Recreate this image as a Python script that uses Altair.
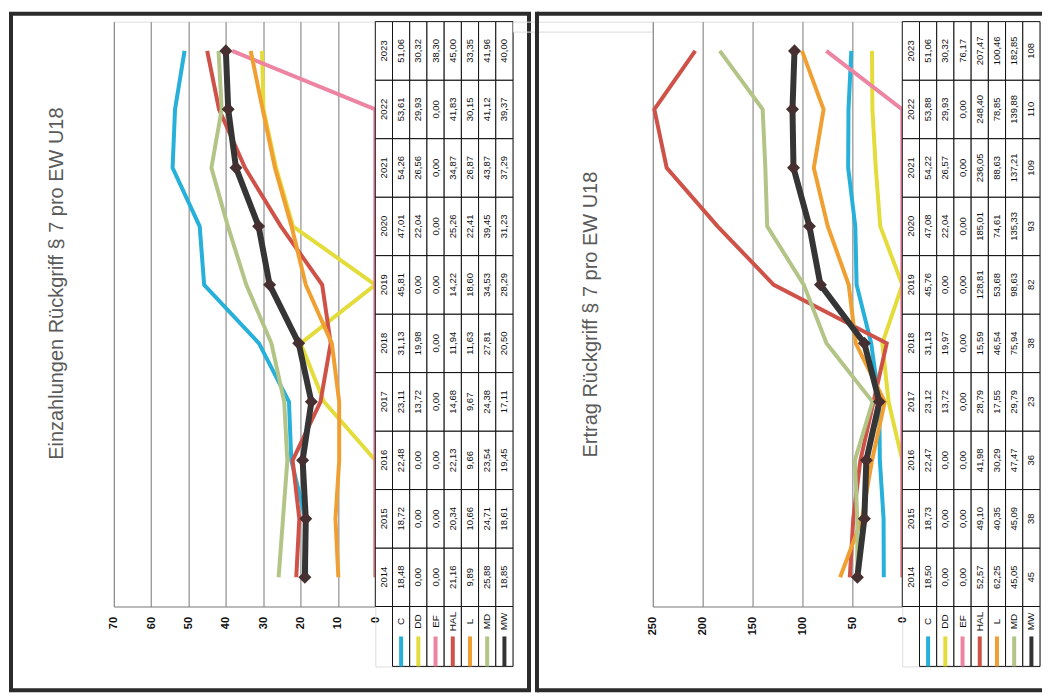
import altair as alt
import pandas as pd

years = ["2014", "2015", "2016", "2017", "2018", "2019", "2020", "2021", "2022", "2023"]
series = ["C", "DD", "EF", "HAL", "L", "MD", "MW"]
colors = ["#27b0d9", "#e3dc3a", "#ec84a2", "#cf5249", "#f0a032", "#b3c487", "#333333"]

# Einzahlungen Rückgriff § 7 pro EW U18
ein_C = [18.48, 18.72, 22.48, 23.11, 31.13, 45.81, 47.01, 54.26, 53.61, 51.06]
ein_DD = [0.00, 0.00, 0.00, 13.72, 19.98, 0.00, 22.04, 26.56, 29.93, 30.32]
ein_EF = [0.00, 0.00, 0.00, 0.00, 0.00, 0.00, 0.00, 0.00, 0.00, 38.30]
ein_HAL = [21.16, 20.34, 22.13, 14.68, 11.94, 14.22, 25.26, 34.87, 41.83, 45.00]
ein_L = [9.89, 10.66, 9.66, 9.67, 11.63, 18.60, 22.41, 26.87, 30.15, 33.35]
ein_MD = [25.88, 24.71, 23.54, 24.38, 27.81, 34.53, 39.45, 43.87, 41.12, 41.96]
ein_MW = [18.85, 18.61, 19.45, 17.11, 20.50, 28.29, 31.23, 37.29, 39.37, 40.00]

# Ertrag Rückgriff § 7 pro EW U18
ert_C = [18.50, 18.73, 22.47, 23.12, 31.13, 45.76, 47.08, 54.22, 53.88, 51.06]
ert_DD = [0.00, 0.00, 0.00, 13.72, 19.97, 0.00, 22.04, 26.57, 29.93, 30.32]
ert_EF = [0.00, 0.00, 0.00, 0.00, 0.00, 0.00, 0.00, 0.00, 0.00, 76.17]
ert_HAL = [52.57, 49.10, 41.98, 28.79, 15.59, 128.81, 185.01, 236.05, 248.40, 207.47]
ert_L = [62.25, 40.35, 30.29, 17.55, 46.54, 53.68, 74.61, 88.63, 78.85, 100.46]
ert_MD = [45.05, 45.09, 47.47, 29.79, 75.94, 98.63, 135.33, 137.21, 139.88, 182.85]
ert_MW = [45, 38, 36, 23, 38, 82, 93, 109, 110, 108]

title1 = "Einzahlungen Rückgriff § 7 pro EW U18"
title2 = "Ertrag Rückgriff § 7 pro EW U18"

FONT = "Liberation Sans"
cols = ["Jahr"] + series
ydom = years[::-1]
PLOT_H = 586
LEG_H = 60
TAB_W = 138


def fmt2(v):
    return f"{v:.2f}".replace(".", ",")


def long_df(data, mw_int=False):
    rows = []
    for s, vals in zip(series, data):
        for i, (yr, v) in enumerate(zip(years, vals)):
            if s == "MW" and mw_int:
                txt = str(int(v))
            else:
                txt = fmt2(v)
            rows.append({"year": yr, "yi": i, "series": s, "col": s, "value": v, "txt": txt})
    return pd.DataFrame(rows)


def line_chart(df, vmax, step, width, title, tpad, ty, frame):
    ysc = alt.Scale(domain=ydom, type="point", padding=0.5)
    xenc = alt.X(
        "value:Q",
        scale=alt.Scale(domain=[0, vmax], reverse=True, nice=False, zero=True),
        axis=alt.Axis(
            values=list(range(0, vmax + 1, step)), labelAngle=270, labelFlush=False,
            labelOverlap=False,
            labelFontWeight="bold", labelFontSize=11, labelPadding=10, labelColor="#111",
            labelFont=FONT, ticks=False, grid=True, gridColor="#777", gridWidth=1,
            domainColor="#888", title=None,
        ),
    )
    yax = alt.Axis(labels=False, ticks=False, domain=False, grid=False, title=title,
                   titleFont=FONT, titleFontSize=20, titleFontWeight="normal",
                   titleColor="#5a5a5a", titlePadding=tpad, titleY=ty)
    yenc = alt.Y("year:O", scale=ysc, axis=yax)
    others = df[df["series"] != "MW"]
    mw = df[df["series"] == "MW"]
    lines = alt.Chart(others).mark_line(strokeWidth=4).encode(
        x=xenc, y=yenc,
        color=alt.Color("series:N", scale=alt.Scale(domain=series, range=colors), legend=None),
        order=alt.Order("yi:Q"),
    )
    mwline = alt.Chart(mw).mark_line(strokeWidth=6, color="#353535").encode(
        x=xenc, y=yenc, order=alt.Order("yi:Q")
    )
    mwpts = alt.Chart(mw).mark_point(shape="diamond", filled=True, size=170, opacity=1,
                                     color="#452f30").encode(x=xenc, y=yenc)
    return alt.layer(lines, mwline, mwpts, *frame).properties(width=width, height=PLOT_H)


def table_chart(df):
    hdr = pd.DataFrame({"year": years, "col": "Jahr", "txt": years})
    cells = pd.concat([hdr, df[["year", "col", "txt"]]], ignore_index=True)
    xs = alt.Scale(domain=cols, paddingInner=0, paddingOuter=0)
    ys = alt.Scale(domain=ydom, range=[0, PLOT_H], paddingInner=0, paddingOuter=0)
    rect = alt.Chart(cells).mark_rect(fill="white", stroke="#111", strokeWidth=1).encode(
        x=alt.X("col:N", scale=xs, axis=None), y=alt.Y("year:N", scale=ys, axis=None)
    )
    text = alt.Chart(cells).mark_text(angle=270, fontSize=9.5, font=FONT, color="#111").encode(
        x=alt.X("col:N", scale=xs, axis=None), y=alt.Y("year:N", scale=ys, axis=None),
        text="txt:N",
    )

    leg = pd.DataFrame({"col": series, "series": series, "cell": "leg", "lab": "lab", "sw": "sw"})
    cys = alt.Scale(domain=["leg"], range=[PLOT_H, PLOT_H + LEG_H], paddingInner=0, paddingOuter=0)
    lys = alt.Scale(domain=["lab", "sw"], range=[PLOT_H, PLOT_H + LEG_H],
                    paddingInner=0, paddingOuter=0)
    lrect = alt.Chart(leg).mark_rect(fill="white", stroke="#111", strokeWidth=1).encode(
        x=alt.X("col:N", scale=xs, axis=None), y=alt.Y("cell:N", scale=cys, axis=None)
    )
    ltext = alt.Chart(leg).mark_text(angle=270, fontSize=10, font=FONT, color="#111").encode(
        x=alt.X("col:N", scale=xs, axis=None), y=alt.Y("lab:N", scale=lys, axis=None),
        text="series:N",
    )
    ltick = alt.Chart(leg).mark_tick(orient="vertical", thickness=4, size=30, opacity=1).encode(
        x=alt.X("col:N", scale=xs, axis=None), y=alt.Y("sw:N", scale=lys, axis=None),
        color=alt.Color("series:N", scale=alt.Scale(domain=series, range=colors), legend=None),
    )
    return alt.layer(rect, text, lrect, ltext, ltick).resolve_scale(
        y="independent"
    ).properties(width=TAB_W, height=PLOT_H + LEG_H)


one = pd.DataFrame({"k": [0]})
frame1 = [
    alt.Chart(one).mark_rect(filled=False, stroke="#2b2b2b", strokeWidth=4).encode(
        x=alt.value(-103), x2=alt.value(416), y=alt.value(-8), y2=alt.value(670)
    )
]
frame2 = [
    alt.Chart(one).mark_rule(stroke="#2b2b2b", strokeWidth=4).encode(
        x=alt.value(-116), y=alt.value(-10), y2=alt.value(672)
    ),
    alt.Chart(one).mark_rule(stroke="#2b2b2b", strokeWidth=4).encode(
        x=alt.value(-116), x2=alt.value(390), y=alt.value(-8)
    ),
    alt.Chart(one).mark_rule(stroke="#2b2b2b", strokeWidth=4).encode(
        x=alt.value(-116), x2=alt.value(390), y=alt.value(670)
    ),
]

df1 = long_df([ein_C, ein_DD, ein_EF, ein_HAL, ein_L, ein_MD, ein_MW])
df2 = long_df([ert_C, ert_DD, ert_EF, ert_HAL, ert_L, ert_MD, ert_MW], mw_int=True)

L1 = line_chart(df1, 70, 10, 262, title1, 47, 262, frame1)
L2 = line_chart(df2, 250, 50, 250, title2, 52, 293, frame2)
T1 = table_chart(df1)
T2 = table_chart(df2)

spacer = alt.Chart(one).mark_point(opacity=0).encode(
    x=alt.X("k:Q", axis=None), y=alt.Y("k:Q", axis=None)
).properties(width=140, height=10)

chart = alt.hconcat(L1, T1, spacer, L2, T2, spacing=0, bounds="flush").properties(
    padding=0, background="white"
).configure_view(stroke=None).configure(font=FONT)

chart.save("out.html", embed_options={"renderer": "svg", "actions": False})
